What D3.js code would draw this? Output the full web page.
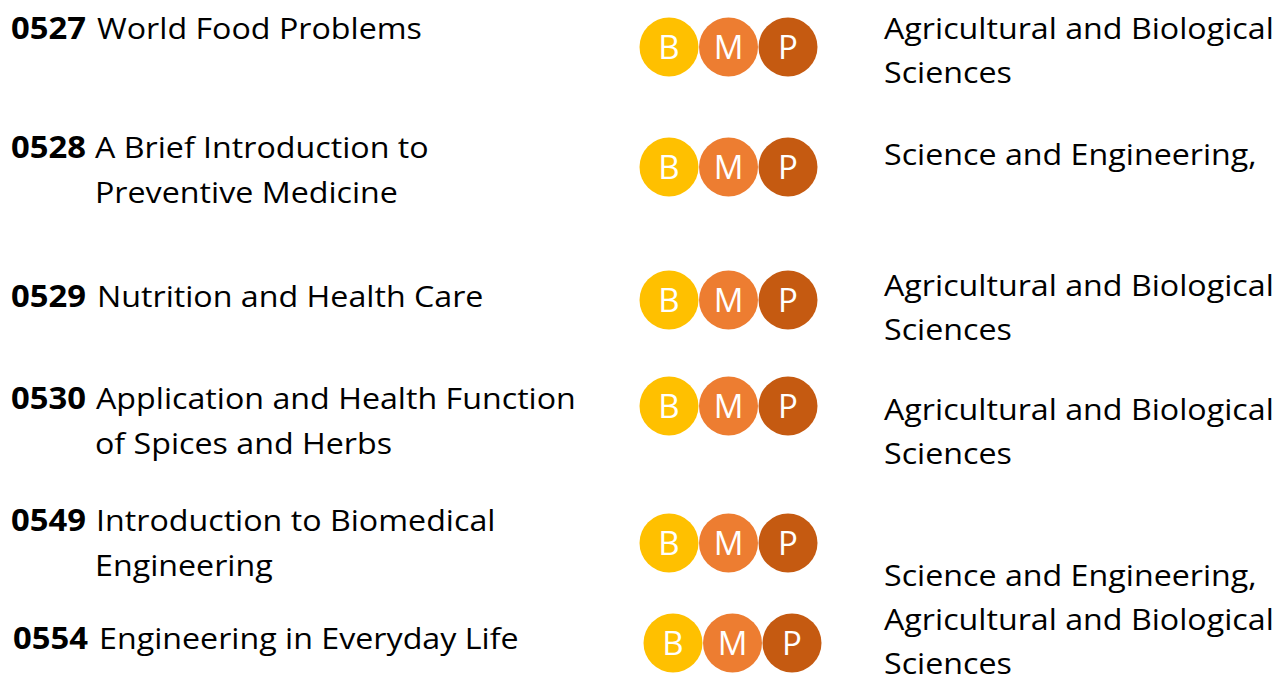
<!DOCTYPE html>
<html>
<head>
<meta charset="utf-8">
<script src="https://cdn.jsdelivr.net/npm/d3@7"></script>
<style>
  html, body { margin: 0; padding: 0; background: #ffffff; }
  svg { display: block; }
</style>
</head>
<body>
<svg id="chart" width="1282" height="675"></svg>
<script>
// ---- data ----
const codes = ["0527", "0528", "0529", "0530", "0549", "0554"];
const titles = [
  ["World Food Problems"],
  ["A Brief Introduction to", "Preventive Medicine"],
  ["Nutrition and Health Care"],
  ["Application and Health Function", "of Spices and Herbs"],
  ["Introduction to Biomedical", "Engineering"],
  ["Engineering in Everyday Life"]
];
const levels = ["B", "M", "P"];
const faculties = [
  ["Agricultural and Biological", "Sciences"],
  ["Science and Engineering,"],
  ["Agricultural and Biological", "Sciences"],
  ["Agricultural and Biological", "Sciences"],
  [],
  ["Science and Engineering,", "Agricultural and Biological", "Sciences"]
];

// ---- layout (positions / styles) ----
const W = 1282, H = 675;
const FONT = "'Open Sans', 'Noto Sans', sans-serif";
const textSize = 29.5, letterSize = 33;
const lineGap = 45;
const codeX = [11, 11, 11, 11, 11, 13];
const titleX = [97, 95, 97, 96, 96, 99];
const titleBase = [39, 158, 307, 409, 531, 649];
const circleY = [47, 167, 300, 406, 543, 643];
const circleShift = [0, 0, 0, 0, 0, 4];
const facultyX = 884;
const facultyBase = [39, 165, 296, 420, null, 586];
const circleR = 29.5;
const levelColor = d3.scaleOrdinal().domain(levels).range(["#FFC000", "#ED7D31", "#C55A11"]);
const xLevel = d3.scalePoint().domain(levels).range([669, 788]);

const svg = d3.select("#chart");

// measure helper for horizontal compression (Calibri-like narrow widths)
function measure(str, weight, size) {
  const t = svg.append("text").attr("font-family", FONT).attr("font-size", size)
    .attr("font-weight", weight).text(str);
  const w = t.node().getComputedTextLength();
  t.remove();
  return w;
}
const sxReg = 325 / measure("World Food Problems", 400, textSize);
const sxBold = 75 / measure("0527", 700, textSize);
const sxLetter = Math.min(1, sxReg * 1.02);

const rows = codes.map((c, i) => ({ i, code: c, title: titles[i], fac: faculties[i] }));

const row = svg.selectAll("g.row").data(rows).join("g").attr("class", "row");

// course code (bold)
row.append("text")
  .attr("transform", d => `translate(${codeX[d.i]},${titleBase[d.i]}) scale(${sxBold},1)`)
  .attr("font-family", FONT).attr("font-size", textSize).attr("font-weight", 700)
  .attr("fill", "#000").text(d => d.code);

// course title lines
row.each(function(d) {
  d3.select(this).selectAll("text.title").data(d.title).join("text")
    .attr("class", "title")
    .attr("transform", (s, k) => {
      const x = k === 0 ? titleX[d.i] : 95;
      return `translate(${x},${titleBase[d.i] + k * lineGap}) scale(${sxReg},1)`;
    })
    .attr("font-family", FONT).attr("font-size", textSize)
    .attr("fill", "#000").text(s => s);
});

// B / M / P circles
row.each(function(d) {
  const g = d3.select(this).selectAll("g.lv").data(levels).join("g").attr("class", "lv")
    .attr("transform", l => `translate(${xLevel(l) + circleShift[d.i]},${circleY[d.i]})`);
  g.append("circle").attr("r", circleR).attr("fill", l => levelColor(l));
  g.append("text")
    .attr("transform", `scale(${sxLetter},1)`)
    .attr("text-anchor", "middle").attr("dy", "0.36em")
    .attr("font-family", FONT).attr("font-size", letterSize)
    .attr("fill", "#fff").text(l => l);
});

// faculties
row.each(function(d) {
  if (facultyBase[d.i] == null) return;
  d3.select(this).selectAll("text.fac").data(d.fac).join("text")
    .attr("class", "fac")
    .attr("transform", (s, k) => `translate(${facultyX},${facultyBase[d.i] + k * 44}) scale(${sxReg},1)`)
    .attr("font-family", FONT).attr("font-size", textSize)
    .attr("fill", "#000").text(s => s);
});
</script>
</body>
</html>
